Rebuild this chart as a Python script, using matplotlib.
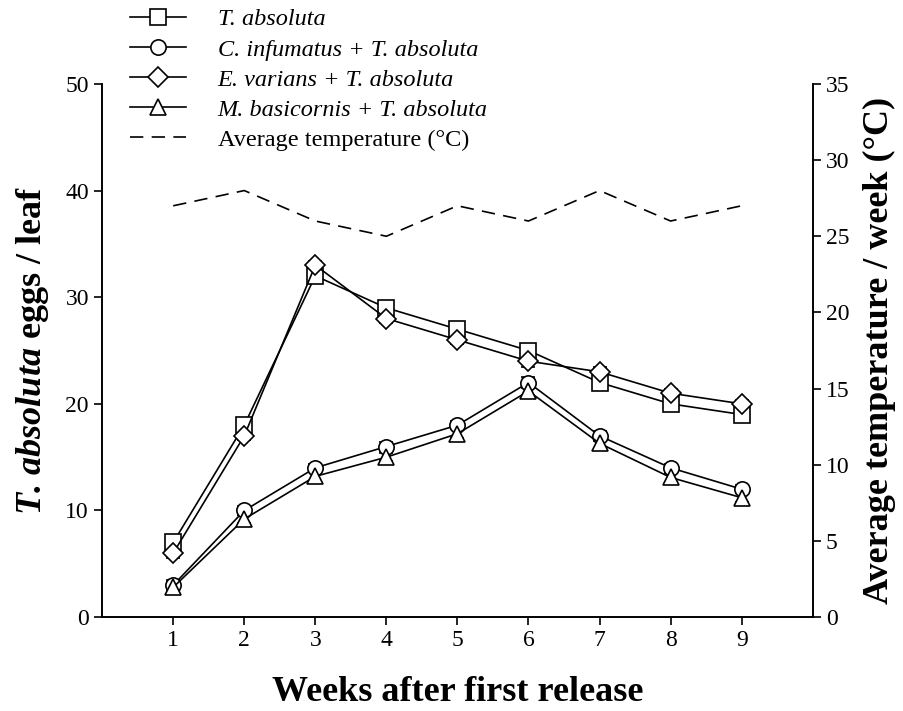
import numpy as np
import matplotlib.pyplot as plt
from matplotlib.lines import Line2D

plt.rcParams['font.family'] = ['Liberation Serif', 'DejaVu Serif']
plt.rcParams['mathtext.fontset'] = 'custom'
plt.rcParams['mathtext.rm'] = 'Liberation Serif'
plt.rcParams['mathtext.it'] = 'Liberation Serif:italic'
plt.rcParams['mathtext.bf'] = 'Liberation Serif:bold'
plt.rcParams['mathtext.bfit'] = 'Liberation Serif:italic:bold'

weeks = [1, 2, 3, 4, 5, 6, 7, 8, 9]
t_absoluta = [7, 18, 32, 29, 27, 25, 22, 20, 19]
c_infumatus = [3, 10, 14, 16, 18, 22, 17, 14, 12]
e_varians = [6, 17, 33, 28, 26, 24, 23, 21, 20]
m_basicornis = [2.8, 9.2, 13.2, 15, 17.2, 21.2, 16.3, 13.1, 11.2]
temperature = [27, 28, 26, 25, 27, 26, 28, 26, 27]
err = [0.5, 0.4, 0.4, 0.4, 0.4, 0.5, 0.5, 0.4, 0.4]

series = [
    (t_absoluta, 's', 'T. absoluta'),
    (c_infumatus, 'o', 'C. infumatus + T. absoluta'),
    (e_varians, 'D', 'E. varians + T. absoluta'),
    (m_basicornis, '^', 'M. basicornis + T. absoluta'),
]

fig = plt.figure(figsize=(9.04, 7.11), dpi=100)
ax = fig.add_axes([0.113, 0.132, 0.786, 0.750])

handles = []
for vals, mk, lab in series:
    ms = 11 if mk != 'D' else 10
    ax.errorbar(weeks, vals, yerr=err, color='black', lw=1.2,
                marker=mk, ms=ms, mfc='white', mec='black', mew=1.2,
                capsize=5, elinewidth=1.0)
    handles.append(Line2D([], [], color='black', lw=1.2, marker=mk, ms=ms,
                          mfc='white', mec='black', mew=1.2, label=lab))

ax2 = ax.twinx()
t_line, = ax2.plot(weeks, temperature, color='black', lw=1.2,
                   dashes=(8, 5), label='Average temperature (°C)')
handles.append(t_line)

ax.set_xlim(0, 10)
ax.set_ylim(0, 50)
ax2.set_ylim(0, 35)
ax.set_xticks(weeks)
ax.set_yticks(range(0, 51, 10))
ax2.set_yticks(range(0, 36, 5))

for a in (ax, ax2):
    a.spines['top'].set_visible(False)
    a.tick_params(labelsize=17, width=1.2, length=6, direction='out')
    for s in a.spines.values():
        s.set_linewidth(1.2)

ax.set_xlabel('Weeks after first release', fontsize=26, fontweight='bold', labelpad=18)
ax.set_ylabel(r'$\mathbfit{T.\,absoluta}$ eggs / leaf', fontsize=26,
              fontweight='bold', labelpad=10)
ax2.set_ylabel('Average temperature / week (°C)', fontsize=26,
               fontweight='bold', labelpad=10)

leg = fig.legend(handles=handles, labels=[h.get_label() for h in handles],
                 loc='upper left', bbox_to_anchor=(0.125, 1.012), frameon=False,
                 fontsize=17.5, handlelength=2.3, labelspacing=0.33, borderpad=0.2,
                 handletextpad=1.3)
# species names in italics, temperature entry stays upright
for txt in leg.get_texts()[:4]:
    txt.set_fontstyle('italic')

fig.savefig('out.png', dpi=100)
